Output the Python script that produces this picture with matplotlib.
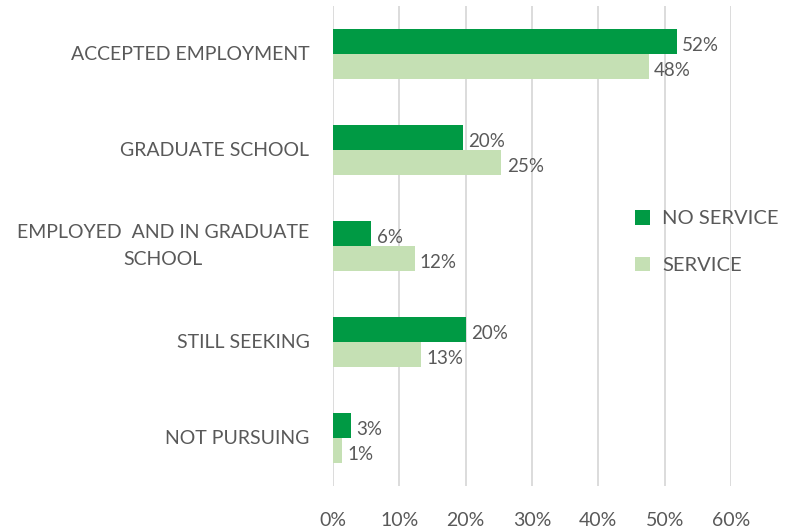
import numpy as np
import matplotlib.pyplot as plt

categories = ['ACCEPTED EMPLOYMENT', 'GRADUATE SCHOOL', 'EMPLOYED  AND IN GRADUATE\nSCHOOL',
              'STILL SEEKING', 'NOT PURSUING']
no_service = [51.8, 19.6, 5.8, 20.0, 2.7]
service = [47.6, 25.4, 12.3, 13.3, 1.4]
series_names = ['NO SERVICE', 'SERVICE']
xticks = [0, 10, 20, 30, 40, 50, 60]

dark = '#009A44'
light = '#C5E0B4'
txt = '#595959'

plt.rcParams['font.family'] = ['Lato', 'DejaVu Sans']

fig = plt.figure(figsize=(7.96, 5.31), dpi=100)
ax = fig.add_axes([333/796, 1-486/531, (731-333)/796, 480/531])

y = np.arange(len(categories))
h = 0.26
b1 = ax.barh(y - h/2, no_service, height=h, color=dark, label=series_names[0], zorder=3)
b2 = ax.barh(y + h/2, service, height=h, color=light, label=series_names[1], zorder=3)

for bars, vals in ((b1, no_service), (b2, service)):
    for rect, v in zip(bars, vals):
        ax.text(v + 0.8, rect.get_y() + rect.get_height()/2 + 0.04, '{}%'.format(int(round(v))),
                va='center', ha='left', fontsize=13.5, color=txt)

ax.set_xlim(0, 60)
ax.set_ylim(len(categories) - 0.5, -0.5)
ax.set_xticks(xticks)
ax.set_xticklabels(['{}%'.format(t) for t in xticks])
ax.set_yticks(y)
ax.set_yticklabels(categories, ha='right', va='center', multialignment='center', linespacing=1.75)
ax.tick_params(axis='y', length=0, pad=17, labelsize=14, labelcolor=txt)
ax.tick_params(axis='x', length=0, pad=19, labelsize=14, labelcolor=txt)
ax.grid(axis='x', color='#D9D9D9', linewidth=1.3, zorder=0)
for s in ax.spines.values():
    s.set_visible(False)

ax.legend(handles=[b1, b2], loc='center left', bbox_to_anchor=(617/796, 1-242/531),
          bbox_transform=fig.transFigure, frameon=False, fontsize=14.5, labelcolor=txt,
          handlelength=0.75, handleheight=0.75, handletextpad=0.6, labelspacing=1.45)

fig.savefig('out.png', dpi=100)
